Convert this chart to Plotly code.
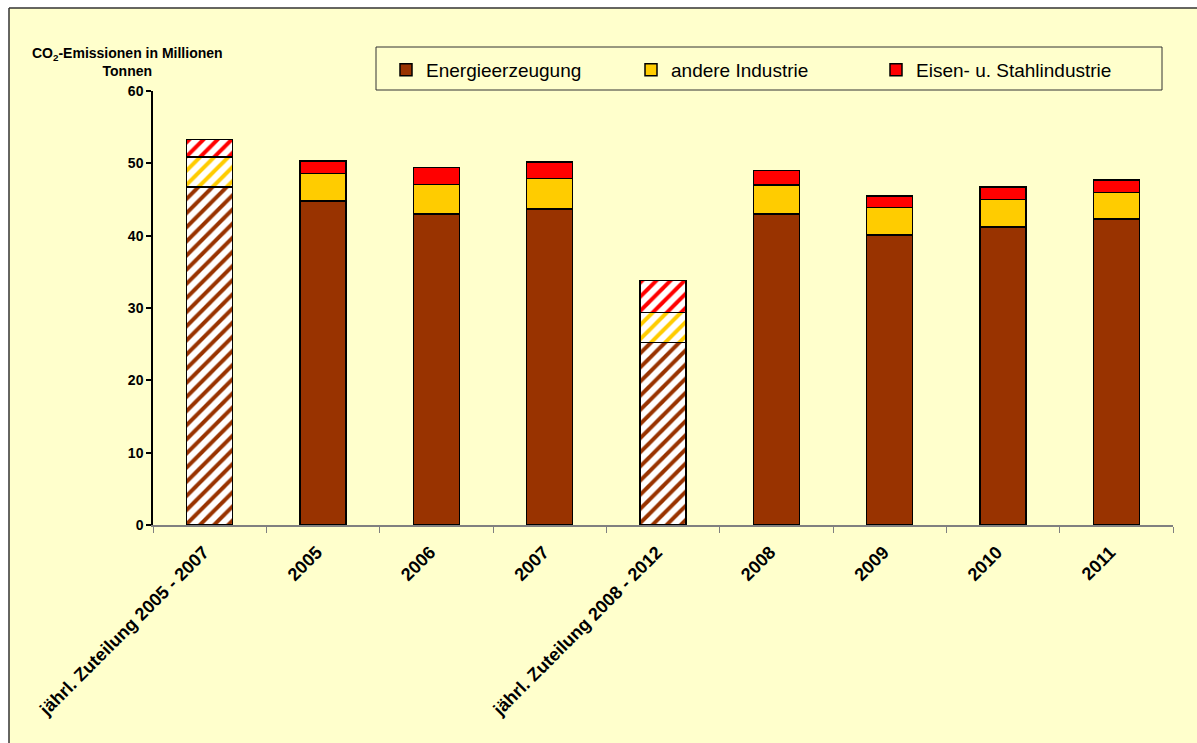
import plotly.graph_objects as go

# Kategorien der x-Achse (Zuteilungen und tatsächliche Jahresemissionen)
kategorien = [
    "jährl. Zuteilung 2005 - 2007", "2005", "2006", "2007",
    "jährl. Zuteilung 2008 - 2012", "2008", "2009", "2010", "2011",
]
# Zuteilungsbalken werden schraffiert dargestellt
ist_zuteilung = [True, False, False, False, True, False, False, False, False]

# CO2-Emissionen in Mio. t je Sektor
energieerzeugung = [46.7, 44.8, 43.0, 43.7, 25.2, 43.0, 40.1, 41.2, 42.3]
andere_industrie = [4.2, 3.8, 4.1, 4.2, 4.2, 4.0, 3.8, 3.8, 3.7]
eisen_stahl = [2.4, 1.7, 2.3, 2.3, 4.4, 2.0, 1.6, 1.7, 1.7]

y_ticks = [0, 10, 20, 30, 40, 50, 60]

serien = [
    ("Energieerzeugung", energieerzeugung, "#993300"),
    ("andere Industrie", andere_industrie, "#FFCC00"),
    ("Eisen- u. Stahlindustrie", eisen_stahl, "#FF0000"),
]

FONT = "Arial, 'Liberation Sans', sans-serif"

fig = go.Figure()
for name, werte, farbe in serien:
    x_voll = [k for k, z in zip(kategorien, ist_zuteilung) if not z]
    y_voll = [v for v, z in zip(werte, ist_zuteilung) if not z]
    x_schraff = [k for k, z in zip(kategorien, ist_zuteilung) if z]
    y_schraff = [v for v, z in zip(werte, ist_zuteilung) if z]
    fig.add_trace(go.Bar(
        x=x_voll, y=y_voll, name=name, legendgroup=name,
        marker=dict(color=farbe, line=dict(color="#000000", width=1.5)),
    ))
    fig.add_trace(go.Bar(
        x=x_schraff, y=y_schraff, name=name, legendgroup=name, showlegend=False,
        marker=dict(
            color="#FFFFFF",
            line=dict(color="#000000", width=1.5),
            pattern=dict(shape="/", fgcolor=farbe, fgopacity=1, size=10,
                         solidity=0.4, fillmode="overlay"),
        ),
    ))

# Pixelgeometrie des Plotbereichs (für Papierkoordinaten der Zusatzelemente)
L, R, T, B = 153, 1173, 91, 525
W, H = R - L, B - T
BG = "#FFFFCC"


def px_x(p):
    return (p - L) / W


def px_y(p):
    return (B - p) / H


rahmen = dict(color="#333333", width=1.5)

fig.update_layout(
    width=1197, height=743,
    margin=dict(l=L, r=1197 - R, t=T, b=743 - B),
    paper_bgcolor=BG,
    plot_bgcolor="rgba(0,0,0,0)",
    barmode="stack",
    bargap=0.595,
    font=dict(family=FONT, color="#000000"),
    showlegend=True,
    legend=dict(
        orientation="h",
        x=px_x(386), y=px_y(51), xanchor="left", yanchor="top",
        bgcolor="rgba(0,0,0,0)", borderwidth=0,
        font=dict(size=19, family=FONT),
        entrywidth=200,
        traceorder="normal",
    ),
    xaxis=dict(
        type="category",
        categoryorder="array", categoryarray=kategorien,
        range=[-0.5, len(kategorien) - 0.5],
        tickangle=-45,
        tickson="boundaries",
        ticks="outside", ticklen=6, tickwidth=1, tickcolor="#808080",
        ticklabelstandoff=8, ticklabelshift=-6,
        showline=True, linecolor="#808080", linewidth=1.5,
        showgrid=False,
        tickfont=dict(size=18, family=FONT, weight="bold"),
    ),
    yaxis=dict(
        range=[0, 60],
        tickvals=y_ticks,
        ticks="outside", ticklen=5, tickwidth=1.5, tickcolor="#000000",
        showline=True, linecolor="#000000", linewidth=1.5,
        showgrid=False, zeroline=False,
        tickfont=dict(size=14, family=FONT, weight="bold"),
    ),
    shapes=[
        # weißer Rand oben und links außerhalb des Diagrammrahmens
        dict(type="rect", xref="paper", yref="paper", layer="below",
             x0=px_x(-5), x1=px_x(1210), y0=px_y(8), y1=px_y(-5),
             fillcolor="#FFFFFF", line=dict(width=0)),
        dict(type="rect", xref="paper", yref="paper", layer="below",
             x0=px_x(-5), x1=px_x(9), y0=px_y(760), y1=px_y(8),
             fillcolor="#FFFFFF", line=dict(width=0)),
        # Rahmenlinien oben und links
        dict(type="line", xref="paper", yref="paper", layer="below",
             x0=px_x(9), x1=px_x(1210), y0=px_y(8), y1=px_y(8), line=rahmen),
        dict(type="line", xref="paper", yref="paper", layer="below",
             x0=px_x(9), x1=px_x(9), y0=px_y(8), y1=px_y(760), line=rahmen),
        # Legendenrahmen
        dict(type="rect", xref="paper", yref="paper", layer="below",
             x0=px_x(376), x1=px_x(1162), y0=px_y(90), y1=px_y(47),
             fillcolor="rgba(0,0,0,0)", line=dict(color="#333333", width=1)),
    ],
    annotations=[
        dict(text="CO<sub>2</sub>-Emissionen in Millionen<br>Tonnen",
             xref="paper", yref="paper", x=px_x(127), y=px_y(81),
             xanchor="center", yanchor="bottom", showarrow=False, align="center",
             font=dict(size=14, family=FONT, weight="bold")),
    ],
)

fig.write_html("out.html")
